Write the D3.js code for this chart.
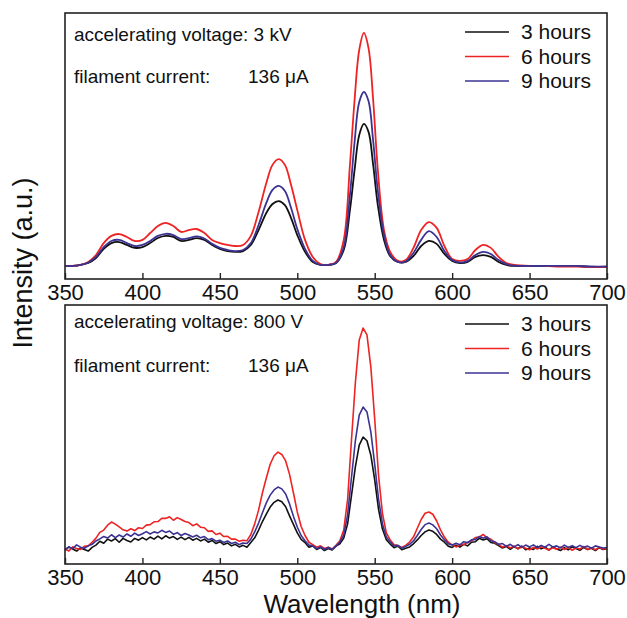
<!DOCTYPE html>
<html lang="en">
<head>
<meta charset="utf-8">
<title>Intensity vs wavelength</title>
<script src="https://cdnjs.cloudflare.com/ajax/libs/d3/7.8.5/d3.min.js"></script>
<style>
  body { margin: 0; background: #fff; }
  svg { display: block; font-family: "Liberation Sans", Arial, sans-serif; }
  .ann { font-size: 19px; fill: #111; }
  .leg { font-size: 21px; fill: #111; }
  .tick text { font-size: 22px; fill: #111; font-family: "Liberation Sans", Arial, sans-serif; }
</style>
</head>
<body>
<svg width="627" height="618"></svg>
<script>
// wavelength grid (nm) for the smooth 3 kV spectra
var topWavelengths = [350,355,360,365,370,375,380,385,390,395,400,405,410,415,420,425,430,435,440,445,450,455,460,465,470,475,480,
  484,488,492,496,500,505,510,515,520,525,530,534,537,540,543,546,549,552,556,560,
  565,570,575,580,585,590,595,600,605,610,615,620,625,630,635,640,650,660,670,680,690,700];
// the 800 V spectra are sampled every 2.5 nm
var botWavelengths = d3.range(350, 700.01, 2.5);

var xTicks = [350,400,450,500,550,600,650,700];

// top panel: 3 kV
var top3h = [4.9,4.9,5.3,6.0,7.9,11.3,13.5,13.9,12.8,11.7,12.0,13.5,15.4,16.2,15.8,14.3,14.7,15.4,14.7,12.8,11.3,10.5,10.2,10.5,12.8,18.4,24.8,
  28.2,29.3,27.8,22.9,16.5,10.2,6.4,5.3,5.3,6.0,10.9,25.9,41.0,54.1,58.3,55.3,42.9,27.8,14.7,8.6,
  6.4,6.4,8.6,12.4,14.3,13.2,9.4,6.8,6.0,6.4,8.3,9.0,8.3,6.4,5.3,4.9,4.9,4.9,4.9,4.9,4.5,4.5];
var top6h = [4.9,4.9,5.3,6.4,9.0,13.5,16.2,16.9,15.8,14.3,14.7,17.3,19.9,21.1,19.9,17.7,18.4,18.8,17.3,14.7,13.5,12.8,12.4,12.8,16.2,25.2,36.1,
  42.9,45.1,42.9,35.3,25.9,14.7,8.3,5.6,5.3,6.4,14.7,42.9,67.3,86.1,92.5,86.8,67.3,41.0,18.4,10.2,
  6.8,7.1,11.7,18.4,21.4,19.2,12.4,7.5,6.8,7.5,10.9,12.8,11.7,8.3,6.0,5.3,4.9,4.9,4.7,4.7,4.5,4.5];
var top9h = [4.9,4.9,5.3,6.2,8.3,12.0,14.3,14.7,13.5,12.4,12.8,14.3,16.2,17.0,16.5,15.0,15.4,16.0,15.2,13.2,11.7,10.9,10.5,10.9,13.5,20.3,28.6,
  33.5,35.0,33.1,26.7,18.8,11.3,6.8,5.3,5.3,6.0,12.0,31.6,51.5,66.5,70.3,66.9,51.9,33.1,16.5,9.0,
  6.4,6.6,9.8,14.7,18.0,15.8,10.5,7.1,6.2,6.8,9.0,10.2,9.4,7.1,5.6,5.0,4.9,4.9,4.9,4.9,4.7,4.7];

// bottom panel: 800 V (rows of 50 nm)
var bot3h = [
  5.4,6.6,5.8,5.0,6.2,5.6,5.0,6.4,7.3,8.8,8.0,9.6,8.9,9.8,8.4,9.9,9.1,8.5,9.9,9.2,
  10.2,9.3,10.4,9.6,10.8,9.7,10.9,10.0,10.6,9.5,10.4,9.4,10.3,9.2,9.9,8.9,9.6,8.4,9.1,7.9,
  8.6,7.5,8.1,7.0,7.6,6.6,7.2,6.5,8.3,10.1,13.1,16.4,19.3,22.0,23.8,24.7,24.0,22.1,18.6,15.3,
  12.0,9.5,8.3,6.5,7.0,5.6,6.4,5.2,6.0,5.4,6.9,7.8,10.0,15.5,26.5,37.5,45.9,49.0,47.6,42.0,
  32.5,21.0,13.5,9.4,7.7,6.3,6.9,5.5,6.1,6.6,7.8,9.3,11.0,12.4,13.1,12.6,11.4,9.6,8.4,6.9,
  6.4,7.3,6.5,7.6,7.0,8.4,8.6,9.9,9.3,9.8,8.3,8.0,7.1,6.2,6.8,5.7,6.7,5.9,6.9,5.5,
  6.2,5.6,6.8,5.9,6.5,5.4,6.6,5.8,5.2,6.3,5.5,6.6,6.0,5.3,6.4,5.6,6.1,5.2,6.3,5.6,
  5.9];
var bot6h = [
  5.8,5.0,6.6,6.0,5.6,6.8,7.0,8.4,10.0,12.2,13.1,15.0,16.2,15.4,14.3,13.2,12.7,13.6,12.9,14.0,
  13.7,15.0,15.2,16.3,16.4,17.6,17.6,18.2,16.9,17.9,17.2,16.4,16.0,14.8,15.5,14.2,14.0,12.6,12.8,11.4,
  11.9,10.6,10.7,9.6,9.6,8.8,9.2,9.0,11.4,15.5,20.8,27.5,33.2,38.5,41.8,43.2,42.3,39.8,34.6,27.5,
  20.1,14.5,11.0,8.4,7.5,6.5,7.0,6.0,6.5,5.8,7.2,9.0,13.1,25.0,48.0,70.0,86.5,91.1,88.5,76.0,
  56.0,34.0,19.5,12.0,9.3,7.4,7.1,6.4,7.2,8.5,10.4,13.8,17.2,19.6,20.1,19.2,16.6,13.2,10.4,8.4,
  7.4,6.6,7.3,7.5,8.4,8.9,10.2,10.4,11.4,10.2,9.6,8.2,7.6,6.5,7.1,6.2,6.9,5.9,6.6,6.1,
  5.5,6.4,5.8,6.7,6.1,5.4,6.3,5.7,6.5,5.6,6.4,5.3,6.2,5.8,6.7,5.6,6.3,5.5,6.4,5.8,
  6.0];
var bot9h = [
  5.6,6.5,6.0,7.4,6.5,6.1,7.0,7.6,8.9,9.7,10.6,10.0,11.3,10.2,11.2,10.4,11.6,10.7,11.9,11.0,
  11.7,12.5,11.6,12.4,12.0,13.0,12.2,12.7,11.5,12.1,11.0,11.8,11.2,10.4,11.1,10.1,10.6,9.4,9.8,8.8,
  9.2,8.3,8.9,7.9,8.4,7.5,8.1,7.9,9.6,12.4,15.8,19.8,23.6,26.6,28.6,29.7,29.0,27.0,23.2,18.4,
  14.3,11.0,9.0,7.3,7.0,5.9,6.6,5.6,6.4,5.7,7.0,8.4,11.2,19.0,33.5,47.5,57.5,60.6,58.7,51.0,
  38.5,25.0,15.5,10.4,8.5,7.0,7.2,6.1,6.8,7.6,8.9,11.0,13.3,15.2,15.8,15.1,13.6,11.2,9.4,7.8,
  7.3,8.0,7.4,8.6,8.2,9.3,9.5,10.6,10.0,10.5,9.0,8.6,7.6,7.9,6.8,7.6,6.6,7.5,6.4,7.3,
  6.6,7.4,6.3,7.2,6.5,7.6,6.6,7.0,6.2,7.3,6.4,7.1,6.3,7.2,6.5,6.9,6.1,7.0,6.6,6.2,
  6.4];

var seriesNames = ["3 hours", "6 hours", "9 hours"];
var seriesColors = ["#111111", "#ee2323", "#3b3393"];

var svg = d3.select("svg");
var left = 65, right = 607;

var x = d3.scaleLinear().domain([350, 700]).range([left, right]);

var panels = [
  { top: 13, bottom: 279, wl: topWavelengths, data: [top3h, top6h, top9h], curve: d3.curveCatmullRom, lw: 1.8,
    volt: "accelerating voltage: 3 kV", annY: [41, 83], legY: 32 },
  { top: 305, bottom: 564, wl: botWavelengths, data: [bot3h, bot6h, bot9h], curve: d3.curveLinear, lw: 1.6,
    volt: "accelerating voltage: 800 V", annY: [328, 372], legY: 324 }
];

panels.forEach(function(p) {
  var y = d3.scaleLinear().domain([0, 100]).range([p.bottom, p.top]);
  var g = svg.append("g");

  var line = d3.line()
      .x(function(d, i) { return x(p.wl[i]); })
      .y(function(d) { return y(d); })
      .curve(p.curve);

  // draw order: black, red, blue
  [0, 1, 2].forEach(function(k) {
    g.append("path")
      .datum(p.data[k])
      .attr("fill", "none")
      .attr("stroke", seriesColors[k])
      .attr("stroke-width", p.lw)
      .attr("stroke-linejoin", "round")
      .attr("d", line);
  });

  var ax = g.append("g")
    .attr("transform", "translate(0," + p.bottom + ")")
    .call(d3.axisBottom(x).tickValues(xTicks).tickSizeInner(-6).tickSizeOuter(0).tickPadding(5));
  ax.select(".domain").remove();
  ax.selectAll(".tick line").attr("stroke", "#222").attr("stroke-width", 1.4);

  g.append("rect")
    .attr("x", left).attr("y", p.top)
    .attr("width", right - left).attr("height", p.bottom - p.top)
    .attr("fill", "none").attr("stroke", "#222").attr("stroke-width", 1.6);

  g.append("text").attr("class", "ann")
    .attr("x", 74).attr("y", p.annY[0]).text(p.volt);
  var cur = g.append("text").attr("class", "ann").attr("y", p.annY[1]);
  cur.append("tspan").attr("x", 74).text("filament current:");
  cur.append("tspan").attr("x", 248).text("136 \u03bcA");

  seriesNames.forEach(function(n, i) {
    var ly = p.legY + i * 24.5;
    g.append("line")
      .attr("x1", 465).attr("x2", 509)
      .attr("y1", ly).attr("y2", ly)
      .attr("stroke", seriesColors[i]).attr("stroke-width", 1.6);
    g.append("text").attr("class", "leg")
      .attr("x", 521).attr("y", ly).attr("dy", "0.35em").text(n);
  });
});

svg.append("text")
  .attr("transform", "translate(32,263) rotate(-90)")
  .attr("text-anchor", "middle")
  .style("font-size", "27px").attr("fill", "#111")
  .text("Intensity (a.u.)");

svg.append("text")
  .attr("x", 362).attr("y", 613)
  .attr("text-anchor", "middle")
  .style("font-size", "26px").attr("fill", "#111")
  .text("Wavelength (nm)");
</script>
</body>
</html>
